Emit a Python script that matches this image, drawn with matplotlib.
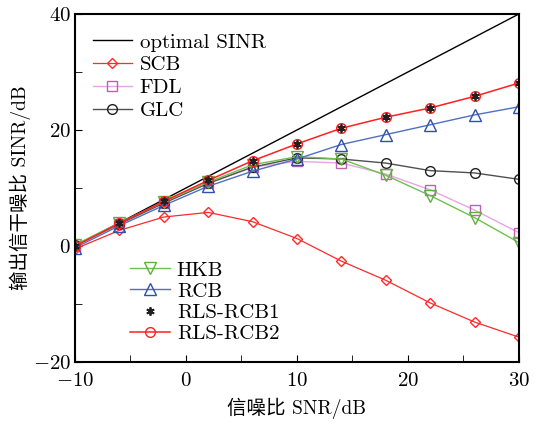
import matplotlib
matplotlib.use('Agg')
import matplotlib.pyplot as plt
from matplotlib.ticker import MultipleLocator, FuncFormatter

plt.rcParams['font.family'] = ['cmr10', 'Noto Sans CJK SC']
plt.rcParams['mathtext.fontset'] = 'cm'
plt.rcParams['axes.unicode_minus'] = False

snr = [-10, -6, -2, 2, 6, 10, 14, 18, 22, 26, 30]
optimal = [0, 40]
optimal_x = [-10, 30]
scb = [-0.5, 2.7, 5.0, 5.8, 4.2, 1.3, -2.6, -5.9, -9.8, -13.1, -15.7]
fdl = [0.0, 3.8, 7.4, 10.8, 13.6, 14.6, 14.3, 12.4, 9.7, 6.2, 2.3]
glc = [0.1, 3.8, 7.4, 10.8, 13.6, 15.2, 15.0, 14.3, 13.0, 12.6, 11.5]
hkb = [0.2, 4.0, 7.6, 11.0, 14.0, 15.4, 15.0, 12.2, 8.7, 4.9, 0.6]
rcb = [-0.3, 3.5, 7.0, 10.3, 12.9, 15.0, 17.5, 19.2, 20.9, 22.6, 24.0]
rls1 = [0.0, 3.9, 7.7, 11.3, 14.7, 17.6, 20.3, 22.2, 23.8, 25.8, 28.1]
rls2 = [0.0, 3.9, 7.7, 11.3, 14.7, 17.6, 20.3, 22.2, 23.8, 25.8, 28.1]

fig = plt.figure(figsize=(5.35, 4.23), dpi=100)
ax = fig.add_axes([0.140, 0.144, 0.830, 0.823])

ms = 7
l_opt, = ax.plot(optimal_x, optimal, color='black', lw=1.0, label='optimal SINR')
l_scb, = ax.plot(snr, scb, color='#ff2a2a', lw=0.9, marker='D', ms=5.5, mfc='none',
                 mec='#ff2a2a', label='SCB')
l_fdl, = ax.plot(snr, fdl, color='#e6a6e0', lw=1.0, marker='s', ms=ms, mfc='none',
                 mec='#c060b0', label='FDL')
l_glc, = ax.plot(snr, glc, color='#505050', lw=1.0, marker='o', ms=ms, mfc='none',
                 mec='#202020', label='GLC')
l_hkb, = ax.plot(snr, hkb, color='#70c050', lw=1.0, marker='v', ms=ms + 1, mfc='none',
                 mec='#60b040', label='HKB')
l_rcb, = ax.plot(snr, rcb, color='#5070c0', lw=1.0, marker='^', ms=ms + 1, mfc='none',
                 mec='#3050b0', label='RCB')
l_rls2, = ax.plot(snr, rls2, color='#ff2020', lw=1.1, marker='o', ms=ms, mfc='none',
                  mec='#ff2020', label='RLS-RCB2')
l_rls1, = ax.plot(snr, rls1, ls='none', marker=(6, 2, 0), ms=6, mew=1.3,
                  color='#202020', label='RLS-RCB1')

ax.set_xlim(-10, 30)
ax.set_ylim(-20, 40)
ax.xaxis.set_major_locator(MultipleLocator(10))
ax.xaxis.set_minor_locator(MultipleLocator(5))
ax.yaxis.set_major_locator(MultipleLocator(20))
ax.yaxis.set_minor_locator(MultipleLocator(10))
fmt = FuncFormatter(lambda v, p: r'$%d$' % v)
ax.xaxis.set_major_formatter(fmt)
ax.yaxis.set_major_formatter(fmt)
ax.tick_params(which='both', direction='in', labelsize=15)
ax.tick_params(which='both', length=5)
ax.tick_params(axis='x', pad=7)
ax.tick_params(axis='y', pad=3)
for s in ax.spines.values():
    s.set_linewidth(1.5)

ax.set_xlabel('信噪比 SNR/dB', fontsize=14, labelpad=6)
ax.set_ylabel('输出信干噪比 SINR/dB', fontsize=14, labelpad=1)

leg1 = ax.legend(handles=[l_opt, l_scb, l_fdl, l_glc], loc='upper left',
                 bbox_to_anchor=(0.04, 0.945), frameon=False, fontsize=15,
                 borderpad=0, borderaxespad=0,
                 handlelength=1.9, labelspacing=0.2, handletextpad=0.35)
ax.add_artist(leg1)
ax.legend(handles=[l_hkb, l_rcb, l_rls1, l_rls2], loc='lower left',
          bbox_to_anchor=(0.124, 0.055), frameon=False, fontsize=15,
          borderpad=0, borderaxespad=0,
          handlelength=1.9, labelspacing=0.12, handletextpad=0.35)

fig.savefig('out.png', dpi=100)
